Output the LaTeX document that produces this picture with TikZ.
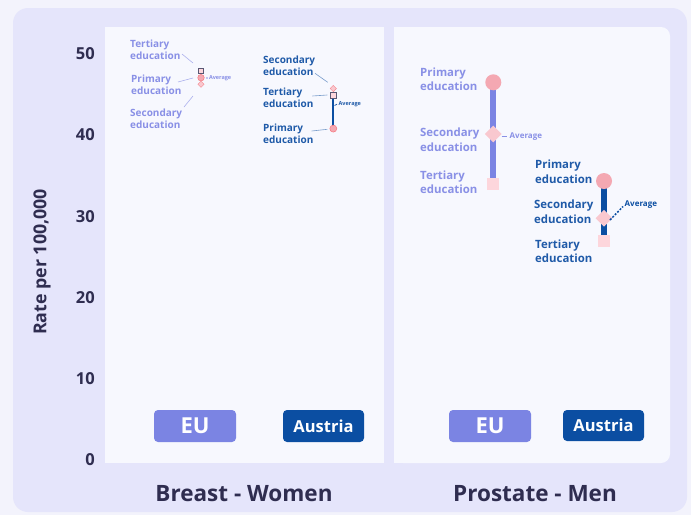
\documentclass[tikz,border=0pt]{standalone}
\usepackage{fontspec}
\setmainfont{Open Sans}
\usetikzlibrary{shapes.geometric}
\definecolor{bgout}{HTML}{F3F3FC}
\definecolor{panelc}{HTML}{E5E5FB}
\definecolor{innerc}{HTML}{F7F8FE}
\definecolor{euc}{HTML}{7B84E3}
\definecolor{eulab}{HTML}{8990E6}
\definecolor{auc}{HTML}{0B4EA2}
\definecolor{aulab}{HTML}{1F5AA8}
\definecolor{pinkc}{HTML}{F4A8B2}
\definecolor{pinkd}{HTML}{F9C8CF}
\definecolor{pinks}{HTML}{FDD6DC}
\definecolor{darkc}{HTML}{2F2D50}
\tikzset{
  tick/.style={anchor=east, inner sep=0pt, text=darkc, font=\fontsize{16.5}{18}\selectfont\bfseries},
  title/.style={inner sep=0pt, text=darkc, font=\fontsize{22.5}{26}\selectfont\bfseries},
  btn/.style={rounded corners=4pt, minimum width=82pt, minimum height=32pt, inner sep=0pt, text=white, font=\bfseries},
  smallab/.style={anchor=west, align=left, inner sep=0pt, font=\fontsize{10}{12}\selectfont\bfseries},
  biglab/.style={anchor=west, align=left, inner sep=0pt, font=\fontsize{11.4}{14.3}\selectfont\bfseries},
  leader/.style={line width=0.6pt},
  avgs/.style={anchor=west, inner sep=0pt, font=\fontsize{5.5}{6}\selectfont\bfseries},
  avgb/.style={anchor=west, inner sep=0pt, font=\fontsize{8}{9}\selectfont},
  smsq/.style={rectangle, draw=darkc!80, line width=0.5pt, fill=pinks, minimum size=5.5pt, inner sep=0pt},
  smci/.style={circle, draw=pinkc!70!red, line width=0.5pt, fill=pinkc, minimum size=6.5pt, inner sep=0pt},
  smdi/.style={diamond, draw=pinkc!80!red, line width=0.4pt, fill=pinkd, minimum size=6.5pt, inner sep=0pt},
  bgci/.style={circle, fill=pinkc, minimum size=16pt, inner sep=0pt},
  bgdi/.style={diamond, fill=pinkd, minimum size=17pt, inner sep=0pt},
  bgsq/.style={rectangle, fill=pinks, minimum size=12pt, inner sep=0pt},
}
\begin{document}
\begin{tikzpicture}[x=1pt,y=-1pt]
\useasboundingbox (0,0) rectangle (691,515);
\fill[bgout] (0,0) rectangle (691,515);
\fill[panelc, rounded corners=15pt] (13,8) rectangle (687,512);
\fill[innerc] (105,27) rectangle (384,463);
\fill[innerc, rounded corners=9pt] (394,27) rectangle (670,463);
\fill[innerc] (394,27) rectangle (420,463);

% axis
\node[tick] (t50) at (95,54) {50};
\node[tick] (t40) at (95,135) {40};
\node[tick] (t30) at (95,217) {30};
\node[tick] (t20) at (95,298) {20};
\node[tick] (t10) at (95,379) {10};
\node[tick] (t0) at (95,460) {0};
\node[rotate=90, inner sep=0pt, text=darkc, font=\fontsize{17.8}{19}\selectfont\bfseries] (ylab) at (42,262) {Rate per 100,000};

% buttons
\node[btn, fill=euc, font=\fontsize{22}{24}\selectfont\bfseries] (b1) at (195,426) {EU};
\node[btn, fill=auc, minimum width=81pt, font=\fontsize{16.5}{18}\selectfont\bfseries] (b2) at (323.5,426) {Austria};
\node[btn, fill=euc, font=\fontsize{22}{24}\selectfont\bfseries] (b3) at (490,426) {EU};
\node[btn, fill=auc, minimum width=81pt, minimum height=31pt, font=\fontsize{16.5}{18}\selectfont\bfseries] (b4) at (603.5,425.5) {Austria};

% titles
\node[title] (tt1) at (244,494) {Breast - Women};
\node[title] (tt2) at (535,494) {Prostate - Men};

% ---- Breast EU
\node[smsq] (beT) at (200.7,70.7) {};
\node[smci] (beP) at (201,77.7) {};
\node[smdi] (beS) at (201,84.2) {};
\node[smallab, text=eulab] (beTl) at (130,50) {Tertiary\\education};
\node[smallab, text=eulab] (bePl) at (131,85) {Primary\\education};
\node[smallab, text=eulab] (beSl) at (130,119) {Secondary\\education};
\coordinate (beT1) at (182,54); \coordinate (beT2) at (193,63);
\coordinate (beP1) at (178,82); \coordinate (beP2) at (193,78);
\coordinate (beS1) at (184,107); \coordinate (beS2) at (193,96);
\draw[leader, eulab!70] (beT1) -- (beT2);
\draw[leader, eulab!70] (beP1) -- (beP2);
\draw[leader, eulab!70] (beS1) -- (beS2);
\fill[eulab] (207,78) circle (0.8pt);
\node[avgs, text=eulab] (beA) at (208.8,78) {Average};

% ---- Breast Austria
\draw[auc, line width=2pt] (333.3,96) -- (333.3,129);
\node[smdi] (baS) at (333.3,88.5) {};
\node[smsq, minimum size=6pt] (baT) at (333.3,95.7) {};
\node[smci, minimum size=7pt] (baP) at (333.3,128.6) {};
\node[smallab, text=aulab] (baSl) at (263,66) {Secondary\\education};
\node[smallab, text=aulab] (baTl) at (263,98) {Tertiary\\education};
\node[smallab, text=aulab] (baPl) at (263,134) {Primary\\education};
\coordinate (baS1) at (315,73.3); \coordinate (baS2) at (327.7,82.3);
\coordinate (baT1) at (312.3,96); \coordinate (baT2) at (327.3,95);
\coordinate (baP1) at (311.7,131); \coordinate (baP2) at (327.3,129.3);
\draw[leader, aulab!60] (baS1) -- (baS2);
\draw[leader, aulab!60] (baT1) -- (baT2);
\draw[leader, aulab!60] (baP1) -- (baP2);
\coordinate (baA1) at (334.5,105.5);
\draw[aulab, line width=0.8pt] (baA1) -- (337,104.3);
\node[avgs, text=aulab] (baA) at (338.5,104.3) {Average};

% ---- Prostate EU
\draw[euc, line width=6pt] (493.3,82.3) -- (493.3,180);
\node[bgci] (peP) at (493.3,82.3) {};
\node[bgdi] (peS) at (493.3,134) {};
\node[bgsq] (peT) at (493.3,184.3) {};
\node[biglab, text=eulab] (pePl) at (420,79) {Primary\\education};
\node[biglab, text=eulab] (peSl) at (420,139.7) {Secondary\\education};
\node[biglab, text=eulab] (peTl) at (420,182.2) {Tertiary\\education};
\coordinate (peA1) at (501.5,136.5);
\draw[eulab, line width=1pt] (peA1) -- (507,136.5);
\node[avgb, text=eulab] (peA) at (509.5,136.7) {\bfseries Average};

% ---- Prostate Austria
\draw[auc, line width=6pt] (604,181) -- (604,236);
\node[bgci] (paP) at (604,181) {};
\node[bgdi] (paS) at (604,218.3) {};
\node[bgsq] (paT) at (604,241) {};
\node[biglab, text=aulab] (paPl) at (535,171.7) {Primary\\education};
\node[biglab, text=aulab] (paSl) at (534,211.7) {Secondary\\education};
\node[biglab, text=aulab] (paTl) at (535,251) {Tertiary\\education};
\coordinate (paA1) at (610,220);
\coordinate (paA2) at (623,206.5);
\draw[auc, line width=1.5pt, dash pattern=on 2pt off 1.5pt] (paA1) -- (paA2);
\node[avgb, text=auc] (paA) at (624.5,205) {\bfseries Average};
\end{tikzpicture}
\end{document}
